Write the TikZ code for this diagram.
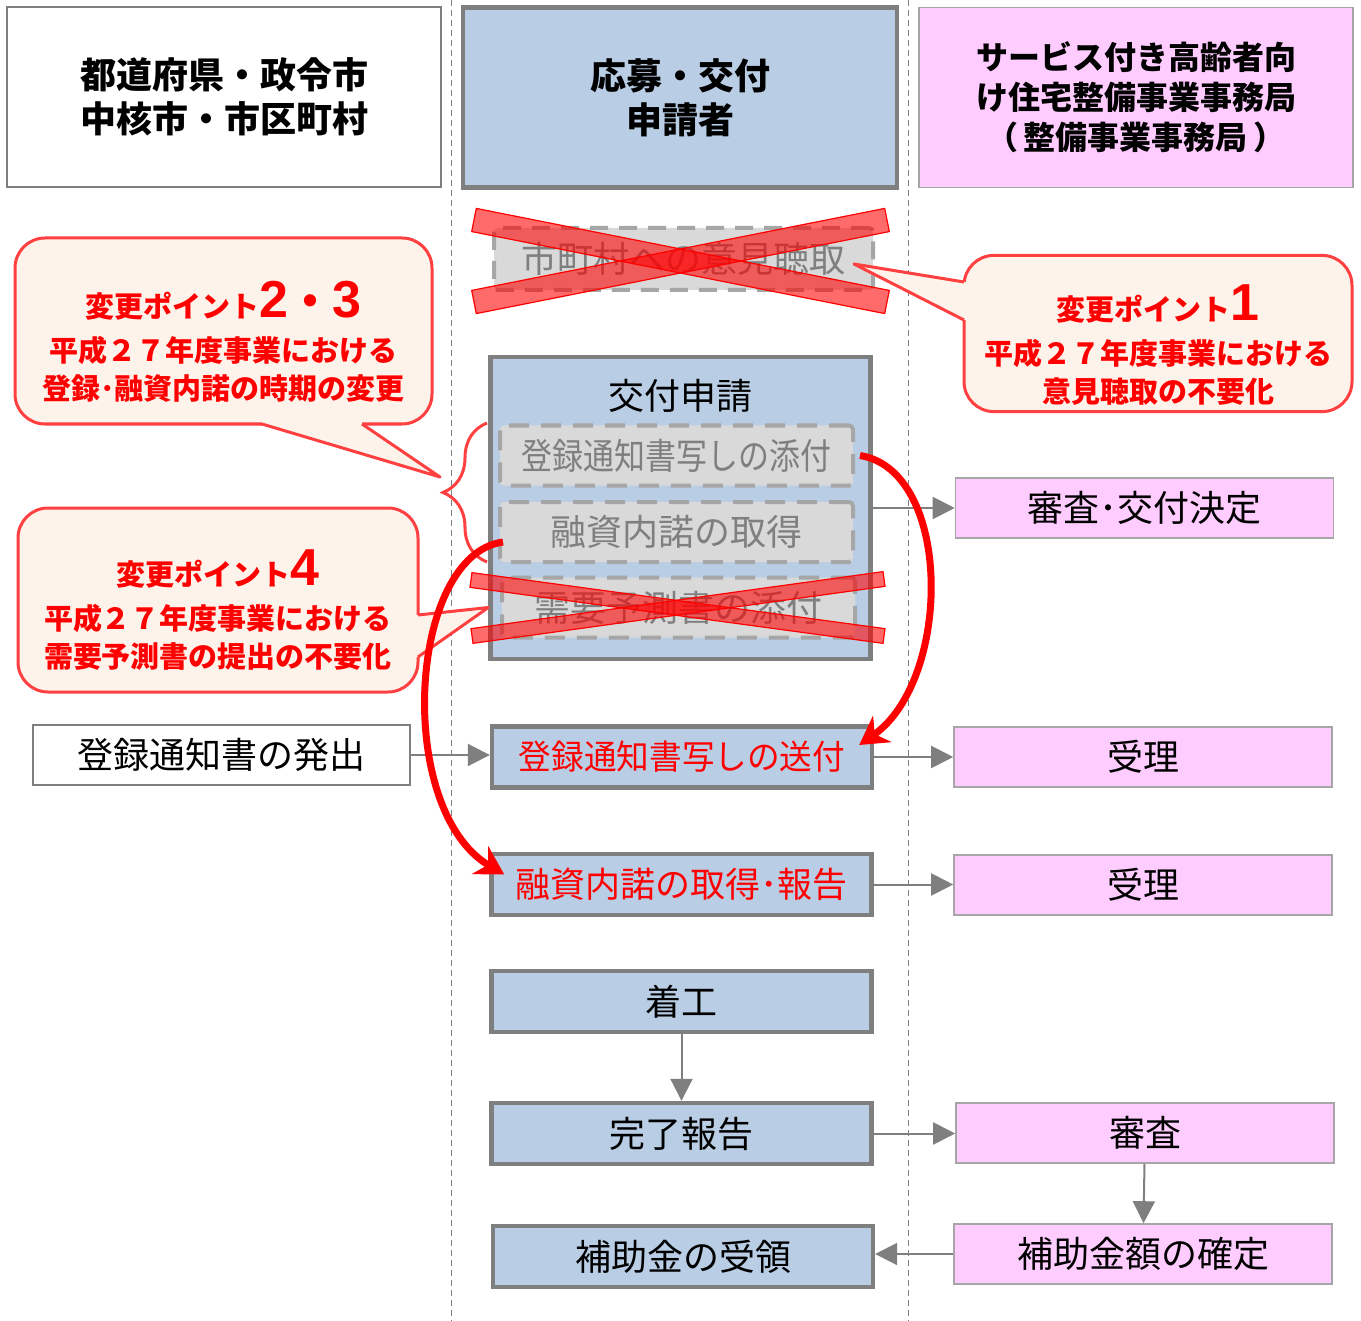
\documentclass[tikz,border=0pt]{standalone}
\usepackage{fontspec}
\setmainfont{Noto Sans CJK JP}
\newfontfamily\numfont{Liberation Sans}
\usepackage{xcolor}
\usepackage{graphicx}
\usepackage{tikz}
\definecolor{boxblue}{RGB}{185, 205, 229}
\definecolor{boxpink}{RGB}{255, 204, 255}
\definecolor{linegray}{RGB}{127, 127, 127}
\definecolor{dropgray}{RGB}{217, 217, 217}
\definecolor{dashgray}{RGB}{166, 166, 166}
\definecolor{callfill}{RGB}{253, 243, 234}
\definecolor{callred}{RGB}{255, 64, 64}
\usetikzlibrary{arrows.meta, positioning, calc, decorations.pathreplacing}

\newcommand{\crossbar}[3]{\filldraw[xmark] ($(#1)!#3!90:(#2)$) -- ($(#2)!#3!-90:(#1)$) -- ($(#2)!#3!90:(#1)$) -- ($(#1)!#3!-90:(#2)$) -- cycle;}

\begin{document}
\begin{tikzpicture}[x=0.5pt, y=-0.5pt,
    headbox/.style={rectangle, inner sep=0pt, minimum width=217pt, minimum height=90pt, align=center, font=\fontsize{18}{22}\selectfont\bfseries},
    flowbox/.style={rectangle, inner sep=0pt, fill=boxblue, draw=linegray, line width=2.2pt, minimum width=190pt, minimum height=30.5pt, font=\fontsize{18}{22}\selectfont},
    officebox/.style={rectangle, inner sep=0pt, fill=boxpink, draw=dashgray, line width=0.8pt, minimum width=189pt, minimum height=30pt, font=\fontsize{18}{22}\selectfont},
    citybox/.style={rectangle, inner sep=0pt, fill=white, draw=linegray, line width=0.8pt, minimum width=188.5pt, minimum height=30pt, font=\fontsize{18}{22}\selectfont},
    dropbox/.style={rectangle, inner sep=0pt, rounded corners=2pt, fill=dropgray, draw=dashgray, line width=2pt, dash pattern=on 10pt off 6pt, text=linegray, minimum width=176.5pt, minimum height=30pt, font=\fontsize{18}{22}\selectfont},
    callout/.style={rectangle, rounded corners=15pt, fill=callfill, draw=callred, line width=1.5pt, text=red, align=center, font=\fontsize{14.5}{19}\selectfont\bfseries},
    xmark/.style={fill=red, fill opacity=0.58, draw=red, line width=0.6pt},
    lane/.style={draw=linegray, line width=0.5pt, dash pattern=on 3pt off 2pt},
    flowarrow/.style={draw=linegray, line width=1pt, -{Triangle[length=11pt, width=11pt]}},
    movearrow/.style={draw=red, line width=3.5pt, -{Stealth[length=14pt, width=16pt]}}
]
    \useasboundingbox (0,0) rectangle (1361,1321);

    % lanes
    \draw[lane] (451,0) -- (451,1321);
    \draw[lane] (908,0) -- (908,1321);

    % headers
    \node[headbox, draw=linegray, line width=0.8pt] (city) at (224,97) {都道府県・政令市\\中核市・市区町村};
    \node[headbox, fill=boxblue, draw=linegray, line width=2.2pt] (applicant) at (680,97.5) {応募・交付\\申請者};
    \node[headbox, fill=boxpink, draw=dashgray, line width=0.8pt, font=\fontsize{16}{20}\selectfont\bfseries] (office) at (1136,97.5) {サービス付き高齢者向\\け住宅整備事業事務局\\（\,整備事業事務局\,）};

    % applicant steps
    \node[dropbox, minimum width=189.5pt, minimum height=31pt, dash pattern=on 9pt off 5.5pt] (hearing) at (683.5,259) {市町村への意見聴取};
    \node[flowbox, minimum height=151pt] (apply) at (680.5,508) {};
    \node[font=\fontsize{18}{22}\selectfont] (applytitle) at (680,396) {交付申請};
    \node[dropbox] (attach) at (676.5,455.5) {\scalebox{0.86}[1]{登録通知書写しの添付}};
    \node[dropbox] (loanget) at (676.5,532) {融資内諾の取得};
    \node[dropbox] (demand) at (678.5,607.5) {需要予測書の添付};
    \node[flowbox, text=red, font=\fontsize{17}{20}\selectfont] (send) at (682,757) {\scalebox{0.96}[1]{登録通知書写しの送付}};
    \node[flowbox, text=red, font=\fontsize{17.5}{20}\selectfont] (loanrep) at (681.5,884.5) {融資内諾の取得･報告};
    \node[flowbox] (startwork) at (681.5,1001.5) {着工};
    \node[flowbox] (report) at (681.5,1133.5) {完了報告};
    \node[flowbox] (receive) at (683,1256.5) {補助金の受領};

    % municipality and office steps
    \node[citybox] (issue) at (221.5,755) {登録通知書の発出};
    \node[officebox] (decide) at (1144.5,508) {審査･交付決定};
    \node[officebox] (recvA) at (1143,757) {受理};
    \node[officebox] (recvB) at (1143,885) {受理};
    \node[officebox] (check) at (1145,1133) {審査};
    \node[officebox] (fix) at (1143,1254) {補助金額の確定};

    % change points
    \node[callout, minimum width=208.5pt, minimum height=93pt] (point23) at (223.5,331) {\rule{0pt}{29pt}変更ポイント{\numfont\fontsize{26}{26}\selectfont 2}{\fontsize{22}{26}\selectfont ・}{\numfont\fontsize{26}{26}\selectfont 3}\\[3pt]平成２７年度事業における\\登録･融資内諾の時期の変更};
    \fill[callfill] (262,416) -- (262,424) -- (440,477) -- (362,424) -- (362,416) -- cycle;
    \draw[callred, line width=1.5pt, line join=round] (262,424) -- (440,477) -- (362,424);

    \node[callout, minimum width=194pt, minimum height=77.5pt] (point1) at (1158,333.5) {\rule{0pt}{29pt}変更ポイント{\numfont\fontsize{26}{26}\selectfont 1}\\[3pt]平成２７年度事業における\\意見聴取の不要化};
    \fill[callfill] (970,282) -- (964,282) -- ($(hearing.east)+(-21,5)$) -- (964,320) -- (970,320) -- cycle;
    \draw[callred, line width=1.5pt, line join=round] (964,282) -- ($(hearing.east)+(-21,5)$) -- (964,320);

    \node[callout, minimum width=200pt, minimum height=92pt] (point4) at (218,600) {\rule{0pt}{28pt}変更ポイント{\numfont\fontsize{26}{26}\selectfont 4}\\[3pt]平成２７年度事業における\\需要予測書の提出の不要化};
    \fill[callfill] (412,615) -- (418,615) -- (apply.west |- demand.west) -- (418,657) -- (412,657) -- cycle;
    \draw[callred, line width=1.5pt, line join=round] (418,615) -- (apply.west |- demand.west) -- (418,657);

    \draw[callred, line width=1.5pt, decorate, decoration={brace, amplitude=22pt}] (487,562) -- (487,423);

    % dropped items
    \crossbar{474,220}{887,302}{5.9pt}
    \crossbar{474,302}{887,220}{5.9pt}
    \crossbar{471,580}{884,636}{3.7pt}
    \crossbar{472,636}{884,579}{3.7pt}

    % flow
    \draw[flowarrow] (apply.east) -- (apply.east -| decide.west);
    \draw[flowarrow] (issue.east) -- (issue.east -| send.west);
    \draw[flowarrow] (send.east) -- (send.east -| recvA.west);
    \draw[flowarrow] (loanrep.east) -- (loanrep.east -| recvB.west);
    \draw[flowarrow] (startwork) -- (report);
    \draw[flowarrow] (report.east) -- (report.east -| check.west);
    \draw[flowarrow] (check) -- (fix);
    \draw[flowarrow] (fix.west) -- (fix.west -| receive.east);

    % moved steps
    \draw[movearrow] ($(attach.east)+(5,0)$) .. controls +(93,15) and +(93,-65) .. ($(send.east)+(-15,-12)$);
    \draw[movearrow] ($(loanget.west)+(5,10)$) .. controls +(-95,13) and +(-110,-65) .. ($(loanrep.west)+(15,-10)$);
\end{tikzpicture}
\end{document}
